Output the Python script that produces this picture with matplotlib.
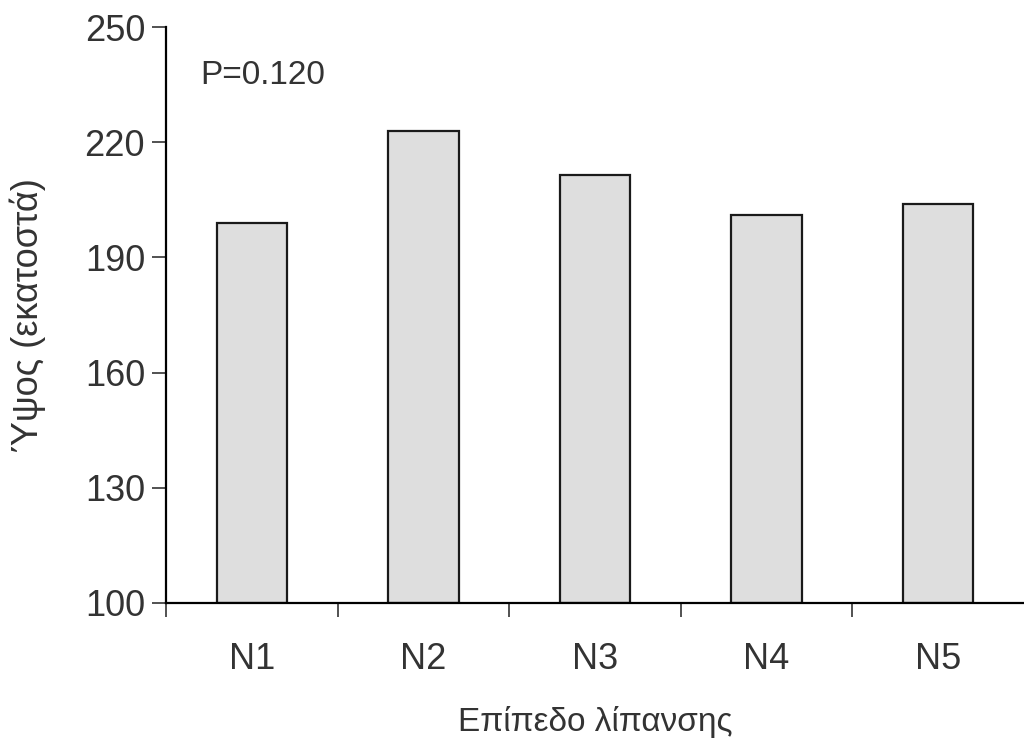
import matplotlib
matplotlib.use("Agg")
import matplotlib.pyplot as plt

categories = ["N1", "N2", "N3", "N4", "N5"]
heights = [199, 223, 211.5, 201, 204]
yticks = [100, 130, 160, 190, 220, 250]
p_text = "P=0.120"
xlabel = "Επίπεδο λίπανσης"
ylabel = "Ύψος (εκατοστά)"

plt.rcParams["font.family"] = ["Liberation Sans", "DejaVu Sans"]

fig = plt.figure(figsize=(10.24, 7.46), dpi=100)
ax = fig.add_axes([0.162, 0.1917, 0.838, 0.7721])

x = range(len(categories))
ax.bar(x, [h - 100 for h in heights], bottom=100, width=0.41,
       color="#dedede", edgecolor="#1a1a1a", linewidth=1.6)

ax.set_xlim(-0.5, 4.5)
ax.set_ylim(100, 250)
ax.set_yticks(yticks)
ax.set_xticks([i - 0.5 for i in range(len(categories))], minor=True)
ax.set_xticks(list(x))
ax.set_xticklabels(categories)
ax.tick_params(axis="x", which="major", length=0, pad=28, labelsize=26, colors="#333333")
ax.tick_params(axis="x", which="minor", length=10, width=1.2, direction="out", color="#333333")
ax.tick_params(axis="y", length=10, width=1.2, direction="out", labelsize=26, pad=5, colors="#333333")

for s in ["top", "right"]:
    ax.spines[s].set_visible(False)
ax.spines["left"].set_linewidth(1.6)
ax.spines["bottom"].set_linewidth(1.6)

ax.text(-0.3, 237.5, p_text, fontsize=24, va="center", ha="left", color="#333333")
ax.set_xlabel(xlabel, fontsize=24, color="#333333", labelpad=21)
ax.set_ylabel(ylabel, fontsize=26, color="#333333", va="center")
ax.yaxis.set_label_coords(-0.161, 0.5)

fig.savefig("out.png", dpi=100)
